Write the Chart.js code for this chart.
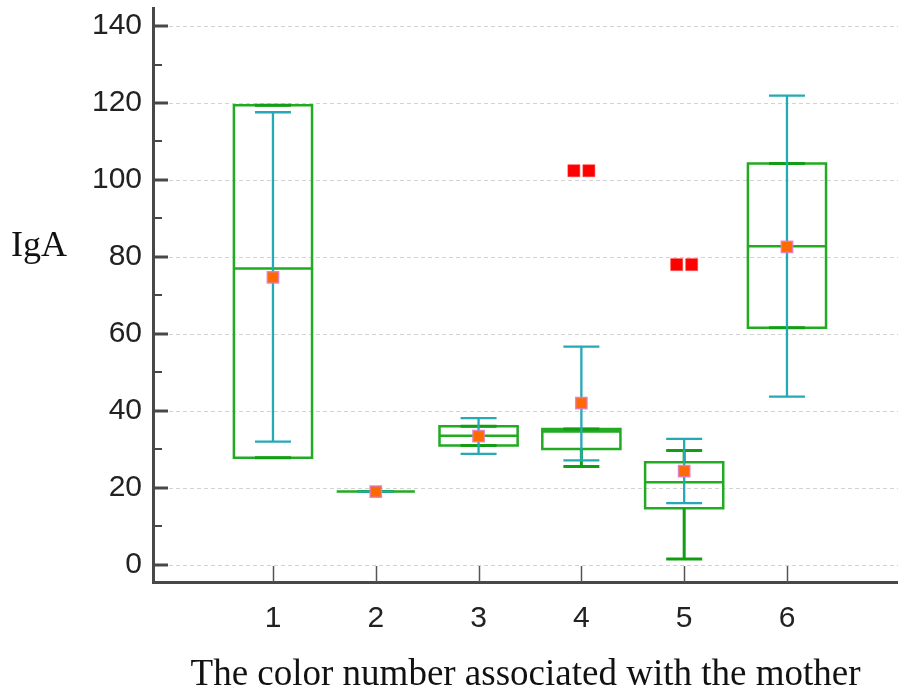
<!DOCTYPE html>
<html>
<head>
<meta charset="utf-8">
<script src="https://cdn.jsdelivr.net/npm/chart.js@4.4.0/dist/chart.umd.min.js"></script>
<style>
  html, body { margin: 0; padding: 0; background: #fff; }
  #wrap { width: 898px; height: 690px; }
</style>
</head>
<body>
<div id="wrap"><canvas id="myChart" width="898" height="690"></canvas></div>
<script>
// box plot per colour number (green), mean with error bar (teal), outliers (red)
const categories = [1, 2, 3, 4, 5, 6];
const boxMin    = [27.8, 19.0, 31.0, 25.5,  1.5,  61.6];
const boxQ1     = [27.8, 19.0, 31.0, 30.1, 14.7,  61.6];
const boxMedian = [77.0, 19.0, 33.5, 34.6, 21.4,  82.8];
const boxQ3     = [119.4, 19.0, 36.0, 35.3, 26.6, 104.3];
const boxMax    = [119.4, 19.0, 36.0, 35.3, 29.7, 104.3];
const means     = [74.7, 19.0, 33.4, 42.0, 24.3,  82.6];
const errLow    = [32.0, 19.0, 28.8, 27.1, 16.0,  43.7];
const errHigh   = [117.6, 19.0, 38.1, 56.7, 32.7, 121.9];
const outlierCat = [4, 4, 5, 5];
const outlierVal = [102.4, 102.4, 78.0, 78.0];
const yTicks = [0, 20, 40, 60, 80, 100, 120, 140];

const BOX_HALF = 0.38;
const CAP_HALF = 0.175;
const OUTLIER_STEP = 0.146;

function toPoints(polys) {
    const out = [];
    polys.forEach(poly => {
        poly.forEach(p => out.push({ x: p[0], y: p[1] }));
        out.push({ x: poly[poly.length - 1][0], y: null });
    });
    return out;
}

const boxPolys = [];
const whiskerPolys = [];
const errPolys = [];
categories.forEach((c, i) => {
    const w = BOX_HALF;
    boxPolys.push([[c - w, boxQ1[i]], [c + w, boxQ1[i]], [c + w, boxQ3[i]], [c - w, boxQ3[i]], [c - w, boxQ1[i]], [c + w, boxQ1[i]]]);
    boxPolys.push([[c - w, boxMedian[i]], [c + w, boxMedian[i]]]);
    whiskerPolys.push([[c, boxQ3[i]], [c, boxMax[i]]]);
    whiskerPolys.push([[c - CAP_HALF, boxMax[i]], [c + CAP_HALF, boxMax[i]]]);
    whiskerPolys.push([[c, boxQ1[i]], [c, boxMin[i]]]);
    whiskerPolys.push([[c - CAP_HALF, boxMin[i]], [c + CAP_HALF, boxMin[i]]]);
    errPolys.push([[c, errLow[i]], [c, errHigh[i]]]);
    errPolys.push([[c - CAP_HALF, errHigh[i]], [c + CAP_HALF, errHigh[i]]]);
    errPolys.push([[c - CAP_HALF, errLow[i]], [c + CAP_HALF, errLow[i]]]);
});

// equal outliers in the same group sit side by side
const outlierPoints = outlierVal.map((v, i) => {
    const same = outlierVal.map((u, j) => j).filter(j => outlierCat[j] === outlierCat[i] && outlierVal[j] === v);
    const k = same.indexOf(i);
    return { x: outlierCat[i] + (k - (same.length - 1) / 2) * OUTLIER_STEP, y: v };
});

const axisDecor = {
    id: 'axisDecor',
    beforeDatasetsDraw(chart) {
        const { ctx, chartArea: a, scales: { y } } = chart;
        ctx.save();
        ctx.strokeStyle = '#d2d2d2';
        ctx.lineWidth = 1;
        ctx.setLineDash([4, 3]);
        yTicks.forEach(v => {
            const py = Math.round(y.getPixelForValue(v)) + 0.5;
            ctx.beginPath();
            ctx.moveTo(a.left + 16, py);
            ctx.lineTo(a.right, py);
            ctx.stroke();
        });
        ctx.restore();
    },
    afterDraw(chart) {
        const { ctx, chartArea: a, scales: { x, y } } = chart;
        ctx.save();
        ctx.strokeStyle = '#484848';
        // major y ticks
        ctx.lineWidth = 3;
        yTicks.forEach(v => {
            const py = Math.round(y.getPixelForValue(v));
            ctx.beginPath();
            ctx.moveTo(a.left, py);
            ctx.lineTo(a.left + 15, py);
            ctx.stroke();
        });
        // minor y ticks
        ctx.lineWidth = 2;
        for (let i = 0; i < yTicks.length - 1; i++) {
            const py = Math.round(y.getPixelForValue((yTicks[i] + yTicks[i + 1]) / 2));
            ctx.beginPath();
            ctx.moveTo(a.left, py);
            ctx.lineTo(a.left + 9, py);
            ctx.stroke();
        }
        // x ticks
        ctx.strokeStyle = '#555';
        ctx.lineWidth = 1.5;
        categories.forEach(c => {
            const px = Math.round(x.getPixelForValue(c)) + 0.5;
            ctx.beginPath();
            ctx.moveTo(px, a.bottom);
            ctx.lineTo(px, a.bottom - 16);
            ctx.stroke();
        });
        // horizontal y title
        ctx.font = '36px "Liberation Serif"';
        ctx.fillStyle = '#111';
        ctx.textBaseline = 'alphabetic';
        ctx.textAlign = 'left';
        ctx.fillText('IgA', 11, 256);
        ctx.restore();
    }
};

const ctx = document.getElementById('myChart').getContext('2d');
const myChart = new Chart(ctx, {
    type: 'scatter',
    data: {
        datasets: [
            {
                label: 'outliers',
                data: outlierPoints,
                pointStyle: 'rect',
                pointRadius: 8.5,
                backgroundColor: '#ff0000',
                borderColor: 'rgba(255, 60, 60, 0.5)',
                borderWidth: 1,
                order: 0
            },
            {
                label: 'mean',
                data: categories.map((c, i) => ({ x: c, y: means[i] })),
                pointStyle: 'rect',
                pointRadius: 8,
                backgroundColor: '#ff6a00',
                borderColor: 'rgba(225, 120, 200, 0.85)',
                borderWidth: 1.5,
                order: 1
            },
            {
                label: 'error',
                data: toPoints(errPolys),
                showLine: true,
                spanGaps: false,
                pointRadius: 0,
                borderColor: '#25a9b4',
                borderWidth: 2.3,
                borderCapStyle: 'butt',
                order: 2
            },
            {
                label: 'whiskers',
                data: toPoints(whiskerPolys),
                showLine: true,
                spanGaps: false,
                pointRadius: 0,
                borderColor: '#129e12',
                borderWidth: 3,
                borderCapStyle: 'butt',
                order: 3
            },
            {
                label: 'box',
                data: toPoints(boxPolys),
                showLine: true,
                spanGaps: false,
                pointRadius: 0,
                borderColor: '#22ab22',
                borderWidth: 2.5,
                borderJoinStyle: 'miter',
                borderCapStyle: 'butt',
                order: 4
            }
        ]
    },
    options: {
        responsive: false,
        animation: false,
        layout: {
            autoPadding: false,
            padding: { top: 8, right: 0, left: 0, bottom: 0 }
        },
        plugins: {
            legend: { display: false },
            tooltip: { enabled: false }
        },
        scales: {
            x: {
                type: 'linear',
                min: -0.167,
                max: 7.08,
                afterBuildTicks: scale => {
                    scale.ticks = categories.map(v => ({ value: v }));
                },
                afterFit: scale => {
                    scale.height = 108;
                    scale.paddingLeft = 0;
                    scale.paddingRight = 0;
                },
                grid: { display: false, drawTicks: false },
                border: { display: true, color: '#484848', width: 3 },
                ticks: {
                    padding: 19,
                    color: '#222',
                    font: { family: '"Liberation Sans", Arial', size: 30 }
                },
                title: {
                    display: true,
                    text: 'The color number associated with the mother',
                    color: '#111',
                    font: { family: '"Liberation Serif", "Times New Roman"', size: 37, lineHeight: 1.0 },
                    padding: { top: 0, bottom: -4 }
                }
            },
            y: {
                min: -4.5,
                max: 144.7,
                afterBuildTicks: scale => {
                    scale.ticks = yTicks.map(v => ({ value: v }));
                },
                afterFit: scale => {
                    scale.width = 153;
                    scale.paddingTop = 0;
                    scale.paddingBottom = 0;
                },
                grid: { display: false, drawTicks: false },
                border: { display: true, color: '#484848', width: 3 },
                ticks: {
                    padding: 11,
                    color: '#222',
                    font: { family: '"Liberation Sans", Arial', size: 30 }
                }
            }
        }
    },
    plugins: [axisDecor]
});
</script>
</body>
</html>
